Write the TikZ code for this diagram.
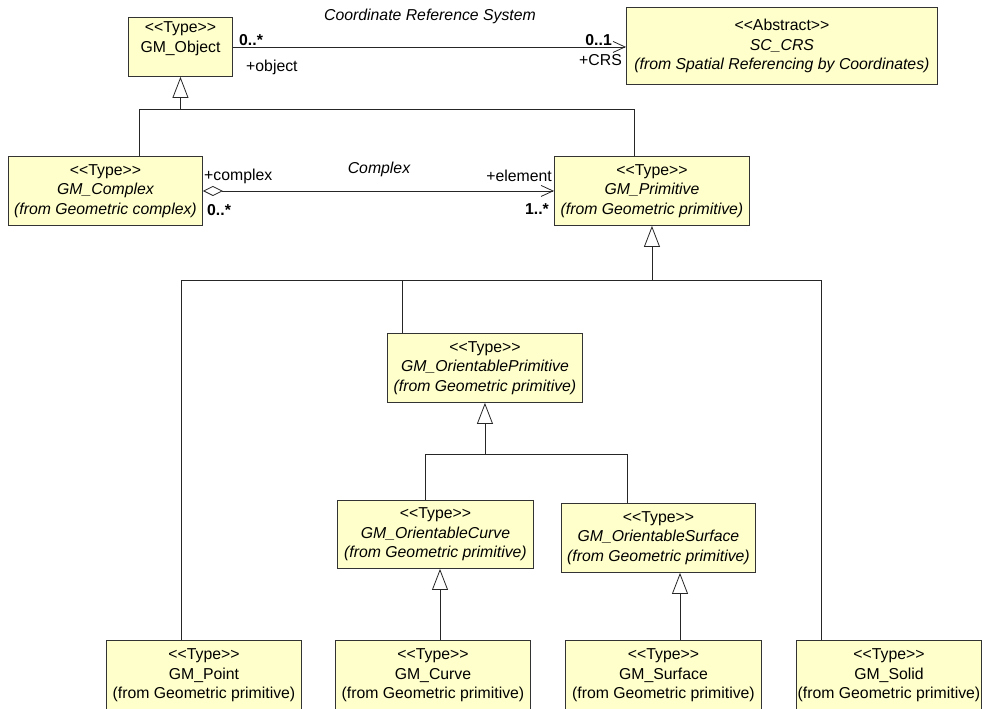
\documentclass[tikz,border=0pt]{standalone}
\usepackage{fontspec}
\setmainfont{Liberation Sans}[Ligatures=TeXOff]
\usetikzlibrary{arrows.meta}
\definecolor{boxfill}{HTML}{FFFFCC}
\definecolor{boxline}{HTML}{333333}
\definecolor{conn}{HTML}{262626}
\begin{document}
\begin{tikzpicture}[x=1pt,y=-1pt,
  every node/.style={font=\fontsize{15.8}{19.5}\selectfont},
  cls/.style={draw=boxline, fill=boxfill, line width=0.9pt, inner sep=0pt, align=center, anchor=north west},
  ln/.style={draw=conn, line width=0.8pt},
  gen/.style={ln, -{Triangle[open,length=21pt,width=16pt,fill=white]}},
  nav/.style={ln, -{Straight Barb[length=12pt,width=11pt]}},
  agg/.style={ln, {Diamond[open,length=20pt,width=10pt]}-{Straight Barb[length=12pt,width=11pt]}},
  lbl/.style={inner sep=0pt},
  mult/.style={inner sep=0pt, font=\fontsize{15.8}{19.5}\selectfont\bfseries},
  ttl/.style={inner sep=0pt, font=\fontsize{15.8}{19.5}\selectfont\itshape}]
\useasboundingbox (0,0) rectangle (982,709);
\clip (0,0) rectangle (982,709);

% classes
\node[cls, minimum width=104pt, minimum height=59pt] (obj) at (128,17) {<<Type>>\\GM\_Object\\~};
\node[cls, minimum width=311pt, minimum height=77pt] (crs) at (626,7) {<<Abstract>>\\\itshape SC\_CRS\\\itshape (from Spatial Referencing by Coordinates)};
\node[cls, minimum width=194pt, minimum height=69pt] (cplx) at (8,156) {<<Type>>\\\itshape GM\_Complex\\\itshape (from Geometric complex)};
\node[cls, minimum width=195pt, minimum height=69pt] (prim) at (554,156) {<<Type>>\\\itshape GM\_Primitive\\\itshape (from Geometric primitive)};
\node[cls, minimum width=195pt, minimum height=69pt] (oprim) at (387,333) {<<Type>>\\\itshape GM\_OrientablePrimitive\\\itshape (from Geometric primitive)};
\node[cls, minimum width=196pt, minimum height=68pt] (ocurve) at (337,500) {<<Type>>\\\itshape GM\_OrientableCurve\\\itshape (from Geometric primitive)};
\node[cls, minimum width=194pt, minimum height=69pt] (osurf) at (561,503) {<<Type>>\\\itshape GM\_OrientableSurface\\\itshape (from Geometric primitive)};
\node[cls, minimum width=195pt, minimum height=70pt] (pt) at (106,640) {<<Type>>\\GM\_Point\\(from Geometric primitive)};
\node[cls, minimum width=195pt, minimum height=70pt] (curve) at (335,640) {<<Type>>\\GM\_Curve\\(from Geometric primitive)};
\node[cls, minimum width=196pt, minimum height=70pt] (surf) at (565,640) {<<Type>>\\GM\_Surface\\(from Geometric primitive)};
\node[cls, minimum width=185pt, minimum height=70pt] (solid) at (796,640) {<<Type>>\\GM\_Solid\\(from Geometric primitive)};

% generalizations
\coordinate (jobj) at (obj.south |- 0,109);
\draw[gen] (jobj) -- (obj.south);
\draw[ln] ([xshift=131pt]cplx.north west) |- (jobj);
\draw[ln] ([xshift=80pt]prim.north west) |- (jobj);

\coordinate (jprim) at (prim.south |- 0,280);
\draw[gen] (jprim) -- (prim.south);
\draw[ln] ([xshift=75pt]pt.north west) |- (jprim);
\draw[ln] ([xshift=15pt]oprim.north west) |- (jprim);
\draw[ln] ([xshift=25pt]solid.north west) |- (jprim);

\coordinate (jop) at (oprim.south |- 0,454);
\draw[gen] (jop) -- (oprim.south);
\draw[ln] ([xshift=88pt]ocurve.north west) |- (jop);
\draw[ln] ([xshift=66pt]osurf.north west) |- (jop);

\coordinate (cc) at ([xshift=105pt]curve.north west);
\draw[gen] (cc) -- (cc |- ocurve.south);
\coordinate (sc) at ([xshift=115pt]surf.north west);
\draw[gen] (sc) -- (sc |- osurf.south);

% associations
\draw[nav] (obj.east) -- (obj.east -| crs.west);
\node[ttl] (crsname) at (430,16) {Coordinate Reference System};
\node[mult, anchor=west] (m1) at (239,40) {0..*};
\node[lbl, anchor=west] (r1) at (246,67) {+object};
\node[mult, anchor=east] (m2) at (612,40) {0..1};
\node[lbl, anchor=east] (r2) at (622,60) {+CRS};

\draw[agg] (cplx.east) -- (prim.west);
\node[ttl] (cxname) at (379,169) {Complex};
\node[lbl, anchor=west] (r3) at (204,176) {+complex};
\node[mult, anchor=west] (m3) at (207,210) {0..*};
\node[lbl, anchor=east] (r4) at (552,176) {+element};
\node[mult, anchor=east] (m4) at (549,209) {1..*};
\end{tikzpicture}
\end{document}
